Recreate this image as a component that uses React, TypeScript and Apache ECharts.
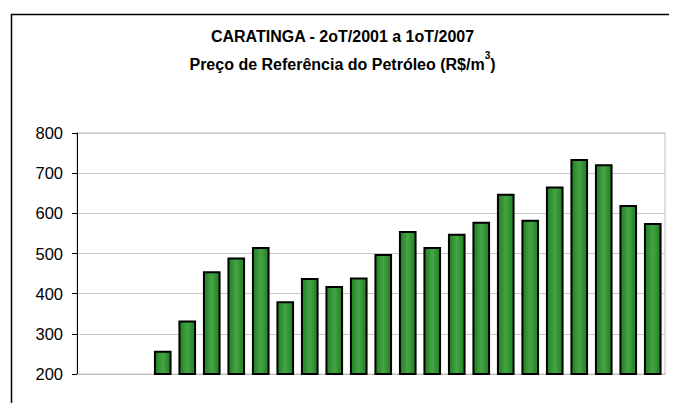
import React, { useEffect, useRef } from "react";
import * as echarts from "echarts";

const categories: string[] = [
  "2T01", "3T01", "4T01",
  "1T02", "2T02", "3T02", "4T02",
  "1T03", "2T03", "3T03", "4T03",
  "1T04", "2T04", "3T04", "4T04",
  "1T05", "2T05", "3T05", "4T05",
  "1T06", "2T06", "3T06", "4T06",
  "1T07",
];
const values: (number | null)[] = [
  null, null, null,
  258, 333, 456, 490, 516, 381, 439, 419, 440, 499, 556, 516, 549, 579, 649, 584, 667, 735, 722, 621, 576,
];
const yTicks = { min: 200, max: 800, interval: 100 };
const titleLine1 = "CARATINGA - 2oT/2001 a 1oT/2007";
const titleLine2 = "Preço de Referência do Petróleo (R$/m";

const FONT = "Liberation Sans, Arial, sans-serif";

export default function App() {
  const ref = useRef<HTMLDivElement>(null);
  useEffect(() => {
    if (!ref.current) return;
    const chart = echarts.init(ref.current, null, { renderer: "svg" });
    chart.setOption({
      animation: false,
      backgroundColor: "#ffffff",
      textStyle: { fontFamily: FONT },
      graphic: [
        {
          type: "rect",
          left: 1,
          top: 4,
          shape: { width: 720, height: 420 },
          style: { fill: "none", stroke: "#000", lineWidth: 1.5 },
          silent: true,
        },
      ],
      title: {
        text: "{t|" + titleLine1 + "}\n{t|" + titleLine2 + "}{s|3}{t|)}",
        left: "center",
        top: 14,
        padding: 0,
        textStyle: {
          rich: {
            t: { fontSize: 16, fontWeight: "bold", color: "#000", lineHeight: 28, fontFamily: FONT },
            s: { fontSize: 10, fontWeight: "bold", color: "#000", lineHeight: 28, verticalAlign: "top", padding: [0, 0, 8, 0], fontFamily: FONT },
          },
        },
      },
      grid: { left: 69, right: 12, top: 125, bottom: 29, containLabel: false, show: true, borderColor: "#c0c0c0", borderWidth: 1 },
      xAxis: {
        type: "category",
        data: categories,
        axisLine: { show: true, lineStyle: { color: "#c0c0c0", width: 1 } },
        axisTick: { show: false },
        axisLabel: { show: false },
      },
      yAxis: {
        type: "value",
        min: yTicks.min,
        max: yTicks.max,
        interval: yTicks.interval,
        axisLine: { show: true, lineStyle: { color: "#000", width: 1 } },
        axisTick: { show: true, inside: false, length: 5, lineStyle: { color: "#000" } },
        axisLabel: { color: "#000", fontSize: 16.5, margin: 14, fontFamily: FONT },
        splitLine: { show: true, lineStyle: { color: "#c8c8c8", width: 1 } },
      },
      series: [
        {
          type: "bar",
          data: values,
          barWidth: "72%",
          itemStyle: {
            color: new echarts.graphic.LinearGradient(0, 0, 1, 0, [
              { offset: 0, color: "#1f7d1f" },
              { offset: 0.5, color: "#45a545" },
              { offset: 1, color: "#1f7d1f" },
            ]),
            borderColor: "#000",
            borderWidth: 2,
          },
        },
      ],
    });
    return () => chart.dispose();
  }, []);
  return <div ref={ref} style={{ width: 669, height: 395 }} />;
}
